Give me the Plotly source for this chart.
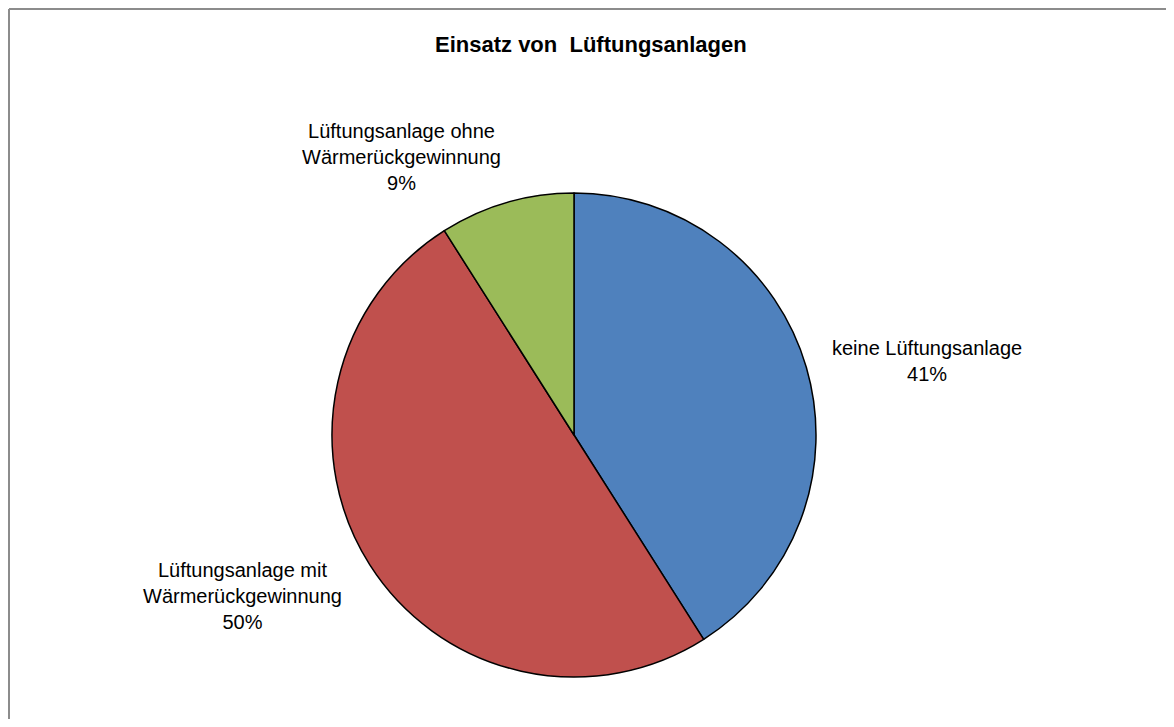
import plotly.graph_objects as go

# data
categories = ['keine Lüftungsanlage',
              'Lüftungsanlage mit<br>Wärmerückgewinnung',
              'Lüftungsanlage ohne<br>Wärmerückgewinnung']
shares = [41, 50, 9]
colors = ['#4F81BD', '#C0504D', '#9BBB59']

# page body has an 8px margin, so the figure is a bit smaller than the window
OFF = 8
W, H = 1174 - 2 * OFF, 727 - 2 * OFF

def px(x):
    return (x - OFF) / W

def py(y):
    return 1 - (y - OFF) / H

fig = go.Figure()

fig.add_trace(go.Pie(
    labels=categories,
    values=shares,
    sort=False,
    direction='clockwise',
    rotation=0,
    marker=dict(colors=colors, line=dict(color='black', width=1.5)),
    textinfo='none',
    hoverinfo='label+percent',
    showlegend=False,
    domain=dict(x=[px(332), px(816)], y=[py(677), py(193)]),
))

# label positions (pixel centres) for each slice, same order as categories
label_pos = [(927, 361), (242, 596), (401, 157)]
annotations = []
for cat, val, (lx, ly) in zip(categories, shares, label_pos):
    annotations.append(dict(
        x=px(lx), y=py(ly), xref='paper', yref='paper',
        text=cat + '<br>' + str(val) + '%',
        showarrow=False, xanchor='center', yanchor='middle',
        font=dict(family='Liberation Sans, Arial, sans-serif', size=20, color='black'),
        align='center'))

annotations.append(dict(
    x=px(591), y=py(44), xref='paper', yref='paper',
    text='<b>Einsatz von  Lüftungsanlagen</b>',
    showarrow=False, xanchor='center', yanchor='middle',
    font=dict(family='Liberation Sans, Arial, sans-serif', size=22, color='black')))

# outer chart frame (only top and left edges visible)
shapes = [
    dict(type='line', xref='paper', yref='paper',
         x0=px(9), x1=1.01, y0=py(9), y1=py(9),
         line=dict(color='#8c8c8c', width=2)),
    dict(type='line', xref='paper', yref='paper',
         x0=px(9), x1=px(9), y0=py(9), y1=-0.01,
         line=dict(color='#8c8c8c', width=2)),
]

fig.update_layout(
    width=W, height=H,
    margin=dict(l=0, r=0, t=0, b=0),
    paper_bgcolor='white',
    plot_bgcolor='white',
    annotations=annotations,
    shapes=shapes,
)

fig.write_html('out.html')
